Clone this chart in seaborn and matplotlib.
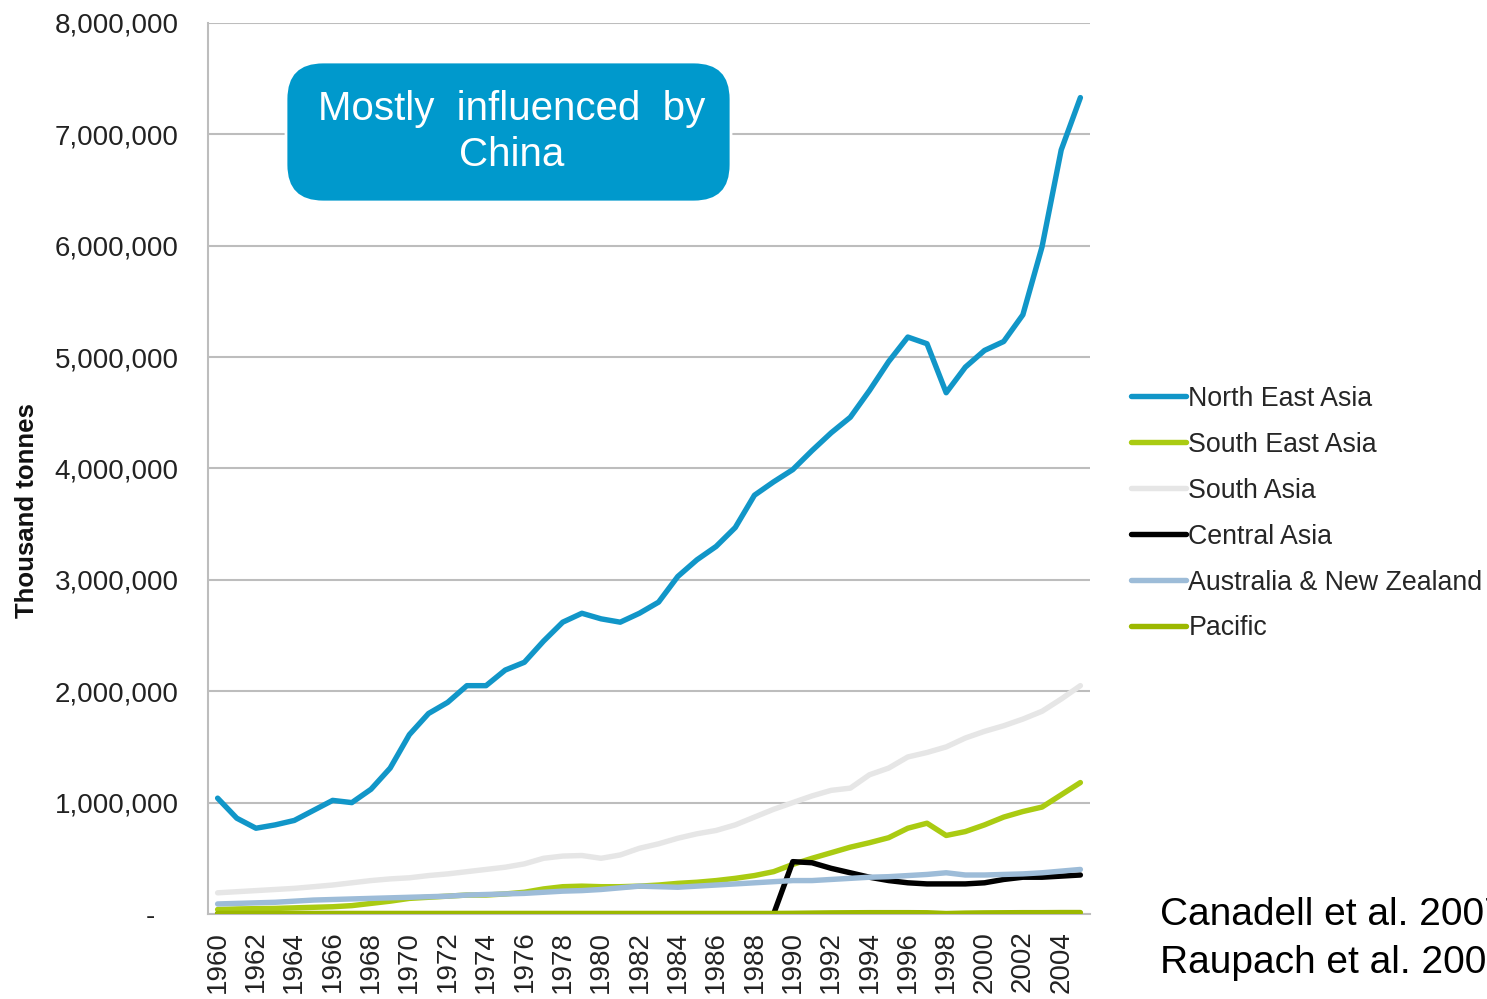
import numpy as np
import pandas as pd
import matplotlib
matplotlib.use("Agg")
import matplotlib.pyplot as plt
import seaborn as sns
from matplotlib.patches import FancyBboxPatch

years = list(range(1960, 2006))

north_east_asia = [1040000, 860000, 770000, 800000, 840000, 930000, 1020000, 1000000, 1120000, 1310000,
                   1610000, 1800000, 1900000, 2050000, 2050000, 2190000, 2260000, 2450000, 2620000, 2700000,
                   2650000, 2620000, 2700000, 2800000, 3030000, 3180000, 3300000, 3470000, 3760000, 3880000,
                   3990000, 4160000, 4320000, 4460000, 4700000, 4960000, 5180000, 5120000, 4680000, 4910000,
                   5060000, 5140000, 5380000, 5990000, 6860000, 7330000]
south_east_asia = [40000, 45000, 48000, 50000, 55000, 60000, 65000, 75000, 95000, 115000,
                   140000, 150000, 160000, 170000, 170000, 180000, 195000, 225000, 245000, 250000,
                   245000, 245000, 250000, 260000, 275000, 285000, 300000, 320000, 345000, 380000,
                   445000, 500000, 550000, 600000, 640000, 685000, 770000, 815000, 705000, 740000,
                   800000, 870000, 920000, 960000, 1070000, 1180000]
south_asia = [190000, 200000, 210000, 220000, 230000, 245000, 260000, 280000, 300000, 315000,
              325000, 345000, 360000, 380000, 400000, 420000, 450000, 500000, 520000, 525000,
              500000, 530000, 590000, 630000, 680000, 720000, 750000, 800000, 870000, 940000,
              1000000, 1060000, 1110000, 1130000, 1250000, 1310000, 1410000, 1450000, 1500000, 1580000,
              1640000, 1690000, 1750000, 1820000, 1930000, 2050000]
central_asia = [0] * 29 + [0, 470000, 460000, 410000, 370000, 330000, 300000, 280000, 270000, 270000,
                           270000, 280000, 310000, 330000, 330000, 340000, 350000]
australia_nz = [90000, 95000, 100000, 105000, 115000, 125000, 130000, 135000, 140000, 145000,
                150000, 155000, 160000, 170000, 175000, 180000, 185000, 195000, 205000, 210000,
                220000, 235000, 250000, 245000, 240000, 250000, 260000, 270000, 280000, 290000,
                300000, 300000, 310000, 320000, 330000, 335000, 345000, 355000, 370000, 350000,
                350000, 355000, 360000, 370000, 385000, 400000]
pacific = [5000] * 30 + [6000, 8000, 10000, 11000, 12000, 12000, 12000, 11000, 4000, 8000,
                         10000, 11000, 12000, 12000, 13000, 13000]

series_names = ["North East Asia", "South East Asia", "South Asia", "Central Asia",
                "Australia & New Zealand", "Pacific"]
series_values = [north_east_asia, south_east_asia, south_asia, central_asia, australia_nz, pacific]
colors = ["#1196C8", "#AACB12", "#E6E6E6", "#000000", "#9DBCD8", "#9CB800"]

y_ticks = [0, 1000000, 2000000, 3000000, 4000000, 5000000, 6000000, 7000000, 8000000]
y_tick_labels = ["-   ", "1,000,000", "2,000,000", "3,000,000", "4,000,000", "5,000,000",
                 "6,000,000", "7,000,000", "8,000,000"]
x_ticks = list(range(1960, 2006, 2))

annotation = "Mostly  influenced  by\nChina"
y_label = "Thousand tonnes"
citation = "Canadell et al. 2007\nRaupach et al. 2007"

rows = []
for name, vals in zip(series_names, series_values):
    for yr, v in zip(years, vals):
        rows.append({"Year": yr, "Value": v, "Region": name})
df = pd.DataFrame(rows)

sns.set_theme(style="white")
plt.rcParams["font.family"] = ["Liberation Sans", "DejaVu Sans"]

fig = plt.figure(figsize=(14.87, 9.99), dpi=100)
ax = fig.add_axes([0.1399, 0.0851, 0.733 - 0.1399, 0.977 - 0.0851])

sns.lineplot(data=df, x="Year", y="Value", hue="Region", hue_order=series_names,
             palette=dict(zip(series_names, colors)), ax=ax, legend=True, zorder=3)
for line in ax.lines:
    line.set_linewidth(3.9)
    line.set_solid_joinstyle("round")

ax.set_xlim(1959.5, 2005.5)
ax.set_ylim(0, 8000000)
ax.set_yticks(y_ticks)
ax.set_yticklabels(y_tick_labels, fontsize=20, color="#222222")
ax.set_xticks(x_ticks)
ax.set_xticklabels([str(x) for x in x_ticks], rotation=90, fontsize=20, color="#222222")
ax.tick_params(axis="y", length=0, pad=21)
ax.tick_params(axis="x", length=0, pad=12)
ax.set_xlabel("")
ax.set_ylabel(y_label, fontsize=18.5, fontweight="bold", color="#111111")
ax.yaxis.set_label_coords(-0.192, 0.453)
ax.yaxis.grid(True, color="#BDBDBD", linewidth=1.5, zorder=0)
ax.xaxis.grid(False)
for s in ["top", "right"]:
    ax.spines[s].set_visible(False)
ax.spines["left"].set_color("#BDBDBD")
ax.spines["left"].set_linewidth(1.5)
ax.spines["bottom"].set_color("#BDBDBD")
ax.spines["bottom"].set_linewidth(1.5)

leg = ax.legend(loc="upper left", bbox_to_anchor=(1.034, 0.605), frameon=False,
                fontsize=19.3, handlelength=2.05, handletextpad=0.1, labelspacing=0.745,
                borderaxespad=0)
for line in leg.get_lines():
    line.set_linewidth(3.9)

# annotation box
box = FancyBboxPatch((286 / 1487, 1 - 202 / 999), (731 - 286) / 1487, (202 - 62) / 999,
                     boxstyle="round,pad=0,rounding_size=0.025", transform=fig.transFigure,
                     facecolor="#0099CC", edgecolor="white", linewidth=2, zorder=5,
                     mutation_aspect=1487 / 999)
fig.patches.append(box)
fig.text((286 + 731) / 2 / 1487 + 0.002, 1 - 132 / 999, annotation, ha="center", va="center",
         fontsize=29, color="white", linespacing=1.27, zorder=6)

fig.text(1160 / 1487, 1 - 939 / 999, citation, ha="left", va="center", fontsize=28,
         color="black", linespacing=1.42)

fig.savefig("out.png", dpi=100)
